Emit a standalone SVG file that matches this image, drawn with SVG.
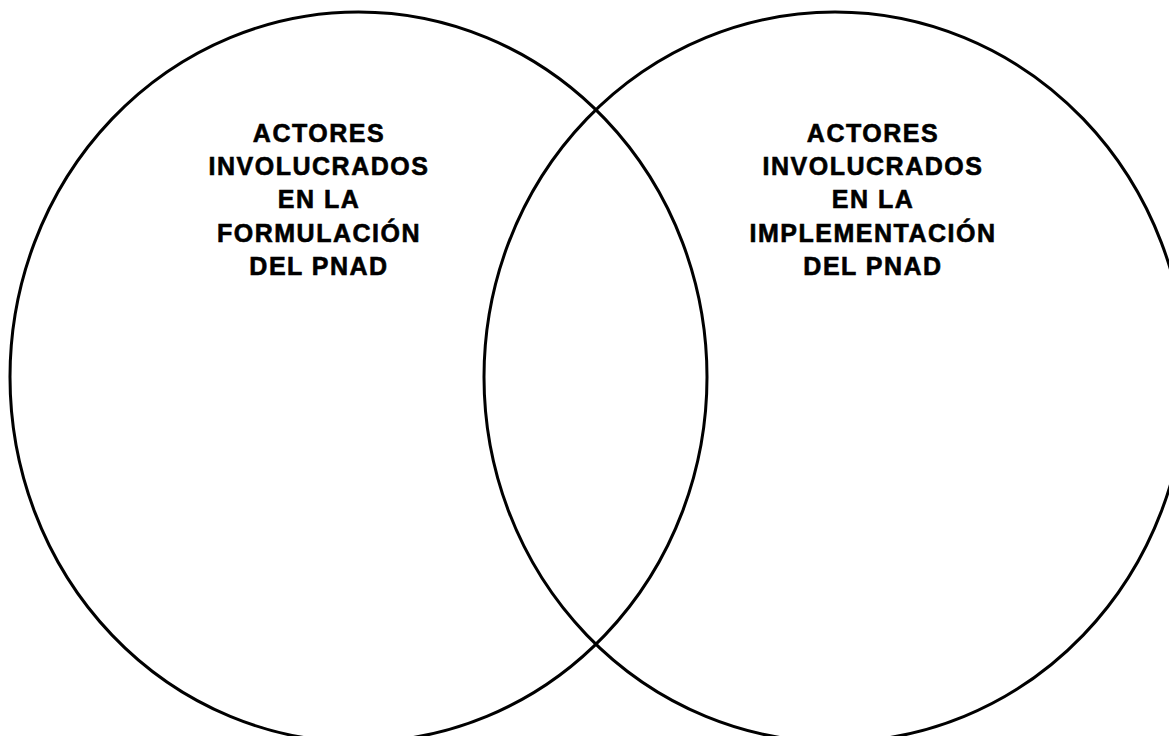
<svg xmlns="http://www.w3.org/2000/svg" width="1169" height="736" viewBox="0 0 1169 736">
<style>
.c{fill:none;stroke:#000;stroke-width:3}
.t{font-family:"Liberation Sans",Arial,sans-serif;font-weight:bold;font-size:25px;letter-spacing:1.5px;fill:#000;stroke:#000;stroke-width:0.6;text-anchor:middle}
</style>
<rect width="1169" height="736" fill="#fff"/>
<g id="left-set">
<ellipse class="c" cx="358.5" cy="377" rx="348.5" ry="365"/>
<text class="t"><tspan x="319" y="142">ACTORES</tspan><tspan x="319" y="175">INVOLUCRADOS</tspan><tspan x="319" y="208">EN LA</tspan><tspan x="319" y="242">FORMULACIÓN</tspan><tspan x="319" y="275">DEL PNAD</tspan></text>
</g>
<g id="right-set">
<ellipse class="c" cx="835" cy="377" rx="351" ry="365"/>
<text class="t"><tspan x="873" y="142">ACTORES</tspan><tspan x="873" y="175">INVOLUCRADOS</tspan><tspan x="873" y="208">EN LA</tspan><tspan x="873" y="242">IMPLEMENTACIÓN</tspan><tspan x="873" y="275">DEL PNAD</tspan></text>
</g>
<g id="connectors"></g>
</svg>
